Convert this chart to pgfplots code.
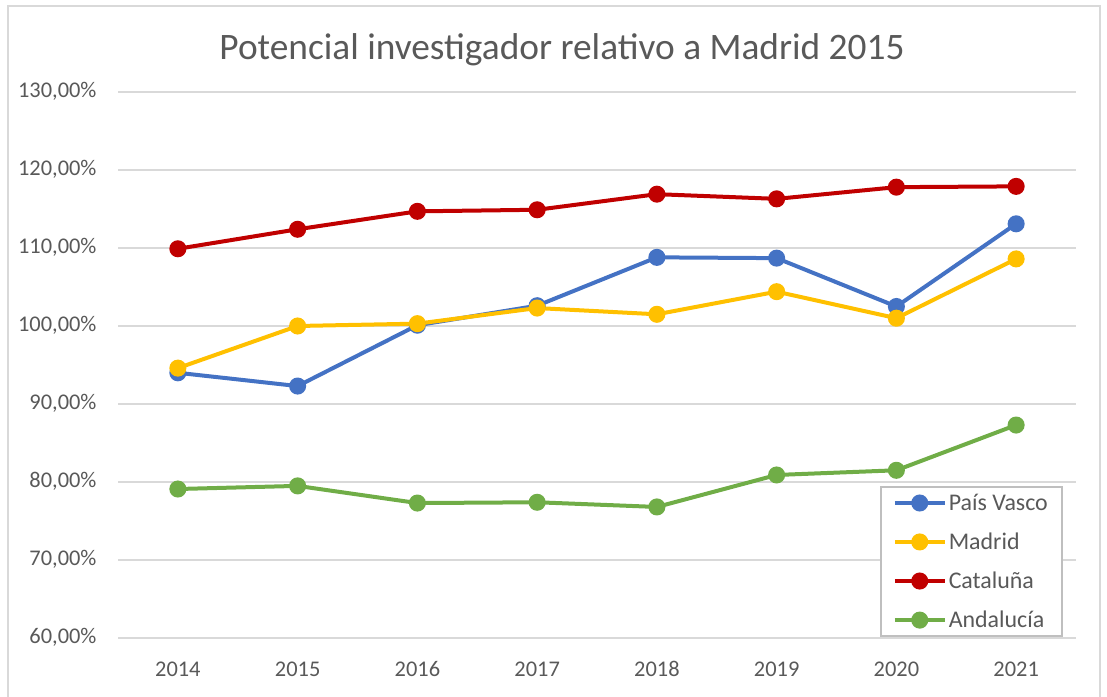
\documentclass[border=0pt]{standalone}
\usepackage{fontspec}
\setmainfont{Carlito}
\usepackage{pgfplots}
\pgfplotsset{compat=1.18}
\definecolor{cblue}{HTML}{4472C4}
\definecolor{cyellow}{HTML}{FFC000}
\definecolor{cred}{HTML}{C00000}
\definecolor{cgreen}{HTML}{70AD47}
\definecolor{textgray}{HTML}{595959}
\definecolor{gridgray}{HTML}{D9D9D9}
\definecolor{framegray}{HTML}{D9D9D9}
\definecolor{legendgray}{HTML}{BFBFBF}
\begin{document}
\begin{tikzpicture}[x=1bp,y=1bp]
\useasboundingbox (0,0) rectangle (1107,697);
\draw[color=framegray, line width=1.5bp] (8,-10) rectangle (1100,691);
\node[text=textgray, font=\fontsize{37.5}{42}\selectfont] at (562,647) {Potencial investigador relativo a Madrid 2015};
\begin{axis}[
  at={(118bp,59bp)}, anchor=south west,
  scale only axis, width=958bp, height=546bp,
  xmin=-0.5, xmax=7.5, ymin=60, ymax=130,
  axis x line*=bottom, axis y line*=left,
  y axis line style={draw=none},
  x axis line style={draw=gridgray, line width=1.3bp, -},
  xtick={0,...,7},
  xticklabels={2014,2015,2016,2017,2018,2019,2020,2021},
  xtick style={draw=none},
  extra x ticks={-0.5,0.5,1.5,2.5,3.5,4.5,5.5,6.5,7.5},
  extra x tick labels={},
  extra x tick style={major tick length=8bp, tick align=outside, grid=none, tick style={draw=gridgray, line width=1.3bp}},
  ytick={60,70,80,90,100,110,120,130},
  yticklabels={{60,00\%},{70,00\%},{80,00\%},{90,00\%},{100,00\%},{110,00\%},{120,00\%},{130,00\%}},
  ytick style={draw=none},
  ymajorgrids, grid style={draw=gridgray, line width=1.3bp},
  tick label style={font=\fontsize{22.5}{26}\selectfont, text=textgray},
  typeset ticklabels with strut,
  yticklabel style={xshift=-18bp},
  xticklabel style={yshift=-17bp},
  legend style={at={(0.986,0.002)}, anchor=south east, draw=legendgray, line width=1.5bp,
    font=\fontsize{24}{28}\selectfont, text=textgray, row sep=17bp, inner xsep=12bp, inner ysep=5bp},
  legend cell align=left,
  legend image code/.code={\draw[#1, mark repeat=2, mark phase=2] plot coordinates {(0bp,0bp) (25bp,0bp) (50bp,0bp)};},
  every axis plot/.append style={line width=4bp, mark=*, mark size=6.5bp, mark options={solid}},
]
\addplot[color=cblue] coordinates {(0,94.0) (1,92.3) (2,100.1) (3,102.6) (4,108.8) (5,108.7) (6,102.5) (7,113.1)};
\addlegendentry{País Vasco}
\addplot[color=cyellow] coordinates {(0,94.6) (1,100.0) (2,100.3) (3,102.3) (4,101.5) (5,104.4) (6,101.0) (7,108.6)};
\addlegendentry{Madrid}
\addplot[color=cred] coordinates {(0,109.9) (1,112.4) (2,114.7) (3,114.9) (4,116.9) (5,116.3) (6,117.8) (7,117.9)};
\addlegendentry{Cataluña}
\addplot[color=cgreen] coordinates {(0,79.1) (1,79.5) (2,77.3) (3,77.4) (4,76.8) (5,80.9) (6,81.5) (7,87.3)};
\addlegendentry{Andalucía}
\end{axis}
\end{tikzpicture}
\end{document}
